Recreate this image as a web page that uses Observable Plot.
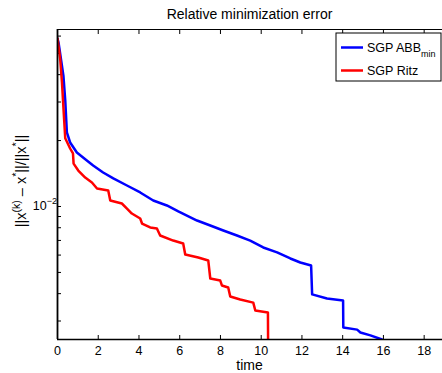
<!DOCTYPE html>
<html><head><meta charset="utf-8">
<script src="https://cdn.jsdelivr.net/npm/d3@7"></script>
<script src="https://cdn.jsdelivr.net/npm/@observablehq/plot@0.6"></script>
<style>
html,body{margin:0;padding:0;background:#fff;overflow:hidden}
#chart svg{display:block}
</style></head><body><div id="chart"></div>
<script>
const title = "Relative minimization error";
const xLabel = "time";
const seriesNames = ["SGP ABB", "SGP Ritz"];
const seriesSub = ["min", ""];
const seriesColors = ["#0000ff", "#ff0000"];

const abbTime = [0, 0.05, 0.29, 0.38, 0.46, 0.62, 0.95, 1.44, 1.75, 2.24, 2.74, 3.41, 4.06, 4.70, 5.37, 5.93, 6.85, 7.50, 8.14, 8.81, 9.46, 10.10, 10.78, 11.43, 11.92, 12.45, 12.50, 13.23, 14.02, 14.03, 14.71, 14.87, 15.36, 15.93, 16.2];
const abbErr = [0.0585, 0.0561, 0.0396, 0.0305, 0.0218, 0.0196, 0.01765, 0.01622, 0.01539, 0.01430, 0.01343, 0.01247, 0.01159, 0.01065, 0.01011, 0.00949, 0.00863, 0.00819, 0.00777, 0.00737, 0.00699, 0.00650, 0.00617, 0.00579, 0.00555, 0.00538, 0.00397, 0.00380, 0.00372, 0.00280, 0.00274, 0.00266, 0.00258, 0.00247, 0.0023];

const ritzTime = [0, 0.13, 0.22, 0.27, 0.38, 0.62, 0.76, 0.79, 1.02, 1.36, 1.69, 1.94, 2.49, 2.59, 3.16, 3.41, 3.65, 4.06, 4.15, 4.55, 4.88, 5.04, 5.68, 6.17, 6.27, 6.91, 7.40, 7.50, 7.99, 8.07, 8.38, 8.48, 8.97, 9.61, 9.71, 10.33, 10.35];
const ritzErr = [0.0585, 0.0474, 0.0368, 0.0305, 0.0205, 0.0184, 0.01746, 0.0157, 0.01459, 0.01356, 0.01288, 0.01208, 0.01183, 0.01065, 0.01032, 0.00979, 0.00929, 0.00881, 0.00836, 0.00802, 0.00794, 0.00737, 0.00699, 0.00678, 0.00604, 0.00585, 0.00567, 0.00469, 0.00459, 0.00436, 0.00427, 0.00388, 0.00376, 0.00364, 0.00335, 0.00328, 0.0015];

const xTicks = [0, 2, 4, 6, 8, 10, 12, 14, 16, 18];
const yTicks = [0.003, 0.004, 0.005, 0.006, 0.007, 0.008, 0.009, 0.01, 0.02, 0.03, 0.04, 0.05, 0.06];
const yLabelTick = 0.01;
const xDomain = [0, 18.9];
const yDomain = [0.00247, 0.0643];

const abb = abbTime.map((t, i) => ({t, e: abbErr[i]}));
const ritz = ritzTime.map((t, i) => ({t, e: ritzErr[i]}));

const FONT = "'Liberation Sans', Arial, Helvetica, sans-serif";

const chart = Plot.plot({
  width: 442, height: 373,
  marginLeft: 57, marginRight: 0, marginTop: 29, marginBottom: 34,
  style: {fontFamily: FONT, fontSize: "12.5px", color: "#000", background: "#fff", overflow: "visible"},
  x: {type: "linear", domain: xDomain},
  y: {type: "log", domain: yDomain},
  marks: [
    Plot.axisX(xTicks, {anchor: "bottom", tickSize: 0, tickPadding: 7, label: null, fill: "#000"}),
    Plot.axisX(xTicks, {anchor: "bottom", tickSize: -4, tickFormat: () => "", label: null}),
    Plot.axisX(xTicks, {anchor: "top", tickSize: -4, tickFormat: () => "", label: null}),
    Plot.axisY(yTicks, {anchor: "left", tickSize: -4, tickFormat: () => "", label: null}),
    Plot.line(abb, {x: "t", y: "e", stroke: seriesColors[0], strokeWidth: 2.5, clip: true}),
    Plot.line(ritz, {x: "t", y: "e", stroke: seriesColors[1], strokeWidth: 2.5, clip: true}),
    Plot.ruleY([yDomain[1]], {stroke: "#000", strokeWidth: 1}),
    Plot.ruleY([yDomain[0]], {stroke: "#000", strokeWidth: 1.5}),
    Plot.ruleX([xDomain[0]], {stroke: "#000", strokeWidth: 1.8})
  ]
});

const svg = d3.select(chart);
const ys = chart.scale("y");
const xs = chart.scale("x");
const cx = (xs.apply(xDomain[0]) + xs.apply(xDomain[1])) / 2;

// title
svg.append("text").attr("x", cx).attr("y", 19).attr("text-anchor", "middle")
  .attr("font-family", FONT).attr("font-size", 14).attr("fill", "#000").text(title);
// x label
svg.append("text").attr("x", cx).attr("y", 370).attr("text-anchor", "middle")
  .attr("font-family", FONT).attr("font-size", 14).attr("fill", "#000").text(xLabel);

// y tick label 10^-2
const yt = svg.append("text").attr("x", xs.apply(xDomain[0])).attr("y", ys.apply(yLabelTick) + 4.5)
  .attr("text-anchor", "end").attr("font-family", FONT).attr("font-size", 12.5).attr("fill", "#000");
yt.append("tspan").text("10");
yt.append("tspan").attr("dy", -6).attr("font-size", 9).text("\u22122");

// y label
const yMid = (ys.apply(yDomain[0]) + ys.apply(yDomain[1])) / 2;
const yl = svg.append("text").attr("transform", `translate(26,${yMid - 3}) rotate(-90)`)
  .attr("text-anchor", "middle").attr("font-family", FONT).attr("font-size", 14.5).attr("fill", "#000");
const parts = [["||x", 0], ["(k)", 1], [" \u2013 x", 0], ["*", 1], ["||/||x", 0], ["*", 1], ["||", 0]];
let prevSup = 0;
for (const [s, sup] of parts) {
  const ts = yl.append("tspan").text(s);
  const dy = (sup ? -6 : 0) - (prevSup ? -6 : 0);
  if (dy) ts.attr("dy", dy);
  if (sup) ts.attr("font-size", 10.5);
  prevSup = sup;
}

// legend
const lg = svg.append("g");
lg.append("rect").attr("x", 336).attr("y", 33).attr("width", 105).attr("height", 48)
  .attr("fill", "#fff").attr("stroke", "#000").attr("stroke-width", 1);
seriesNames.forEach((name, i) => {
  const ly = 47.5 + i * 23;
  lg.append("line").attr("x1", 341).attr("x2", 363).attr("y1", ly).attr("y2", ly)
    .attr("stroke", seriesColors[i]).attr("stroke-width", 2.5);
  const t = lg.append("text").attr("x", 367).attr("y", ly + 4.5).attr("text-anchor", "start")
    .attr("font-family", FONT).attr("font-size", 12.5).attr("fill", "#000");
  t.append("tspan").text(name);
  if (seriesSub[i]) t.append("tspan").attr("dy", 5).attr("font-size", 9).text(seriesSub[i]);
});

document.getElementById("chart").appendChild(chart);
</script>
</body></html>
